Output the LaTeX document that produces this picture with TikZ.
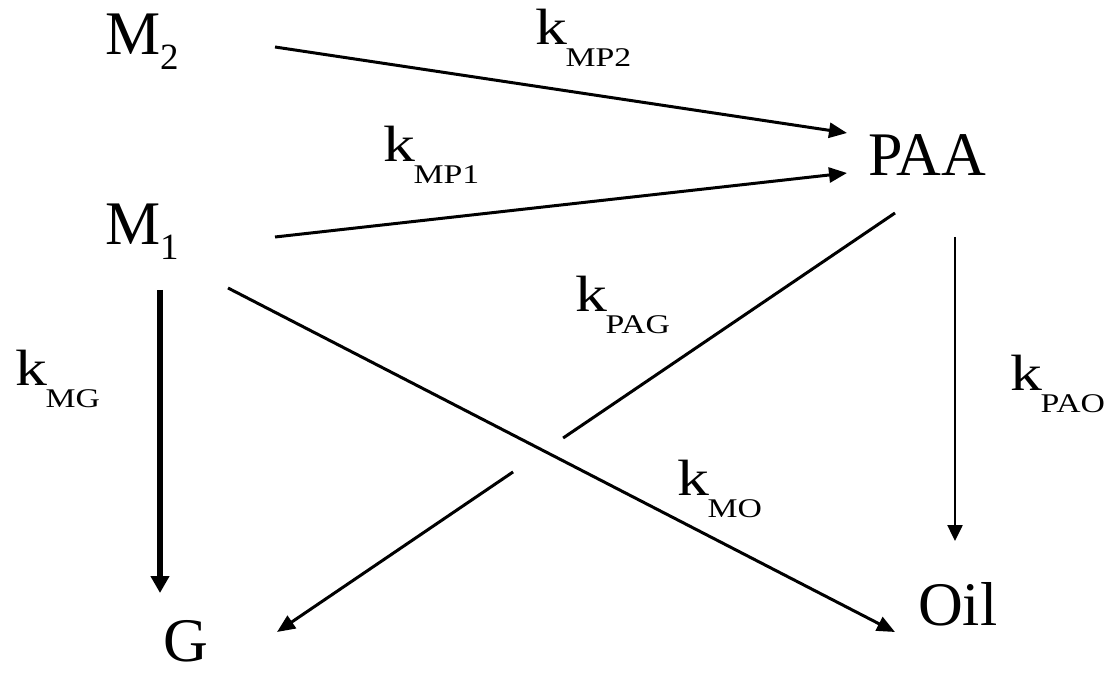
\documentclass[tikz,border=0pt]{standalone}
\usepackage{graphicx}
\usepackage{fontspec}
\setmainfont{Liberation Serif}
\usetikzlibrary{arrows.meta,calc}
\tikzset{
  main/.style={anchor=base west,inner sep=0pt,outer sep=0pt,font=\fontsize{62}{62}\selectfont},
  lab/.style={anchor=base west,inner sep=0pt,outer sep=0pt},
  arr/.style={line width=3pt,-{Triangle[length=18pt,width=15pt]}},
  thickarr/.style={line width=5.5pt,-{Triangle[length=17pt,width=18pt]}},
  thinarr/.style={line width=2.5pt,-{Triangle[length=16pt,width=15pt]}},
  plain/.style={line width=3pt},
}
\newcommand{\msub}[2]{#1\raisebox{-15pt}{\fontsize{37}{37}\selectfont #2}}
\newcommand{\klab}[1]{\scalebox{1.25}[1]{\fontsize{51}{51}\selectfont k\kern-1pt\raisebox{-22pt}{\fontsize{27}{27}\selectfont #1}}}
\begin{document}
\begin{tikzpicture}[x=1pt,y=-1pt]
\useasboundingbox (0,0) rectangle (1111,676);
% species
\node[main] (m2) at (105,55) {\msub{M}{2}};
\node[main] (m1) at (105,245) {\msub{M}{1}};
\node[main] (paa) at (868,176) {PAA};
\node[main] (g) at (163,661) {G};
\node[main] (oil) at (918,625) {Oil};
% rate labels
\node[lab] (kmp2) at (535,45) {\klab{MP2}};
\node[lab] (kmp1) at (383,162) {\klab{MP1}};
\node[lab] (kpag) at (575,312) {\klab{PAG}};
\node[lab] (kmg) at (15,385) {\klab{MG}};
\node[lab] (kpao) at (1010,390) {\klab{PAO}};
\node[lab] (kmo) at (677,495) {\klab{MO}};
% connectors
\draw[arr] ([shift={(170,-8)}]m2.base west) -- ([shift={(-21,-43)}]paa.base west);
\draw[arr] ([shift={(170,-8)}]m1.base west) -- ([shift={(-21,-3)}]paa.base west);
\draw[thickarr] ([shift={(55,45)}]m1.base west) -- ([shift={(-3,-68)}]g.base west);
\draw[arr] ([shift={(123,43)}]m1.base west) -- ([shift={(-23,7)}]oil.base west);
\coordinate (pgs) at ([shift={(27,37)}]paa.base west);
\coordinate (pge) at ([shift={(114,-29)}]g.base west);
\draw[plain] (pgs) -- ($(pgs)!0.537!(pge)$);
\draw[arr] ($(pgs)!0.618!(pge)$) -- (pge);
\draw[thinarr] ([shift={(87,61)}]paa.base west) -- ([shift={(37,-84)}]oil.base west);
\end{tikzpicture}
\end{document}
